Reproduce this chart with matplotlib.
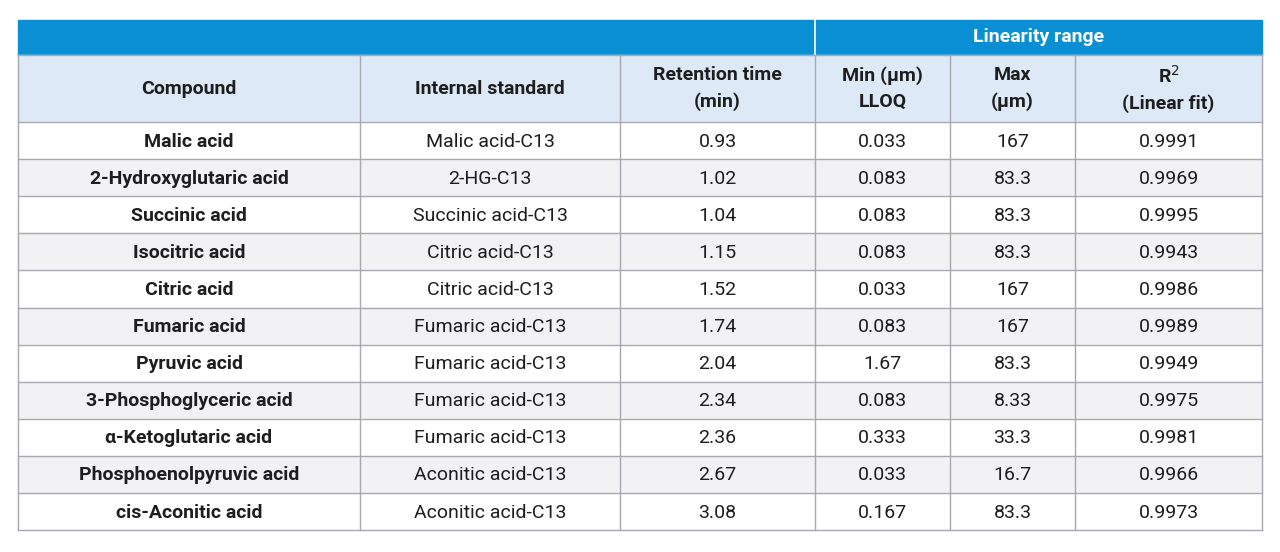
import matplotlib.pyplot as plt
from matplotlib.patches import Rectangle

plt.rcParams["font.family"] = "Roboto"

compounds = ["Malic acid", "2-Hydroxyglutaric acid", "Succinic acid", "Isocitric acid",
             "Citric acid", "Fumaric acid", "Pyruvic acid", "3-Phosphoglyceric acid",
             "\u03b1-Ketoglutaric acid", "Phosphoenolpyruvic acid", "cis-Aconitic acid"]
standards = ["Malic acid-C13", "2-HG-C13", "Succinic acid-C13", "Citric acid-C13",
             "Citric acid-C13", "Fumaric acid-C13", "Fumaric acid-C13", "Fumaric acid-C13",
             "Fumaric acid-C13", "Aconitic acid-C13", "Aconitic acid-C13"]
ret_time = ["0.93", "1.02", "1.04", "1.15", "1.52", "1.74", "2.04", "2.34", "2.36", "2.67", "3.08"]
lloq = ["0.033", "0.083", "0.083", "0.083", "0.033", "0.083", "1.67", "0.083", "0.333", "0.033", "0.167"]
max_um = ["167", "83.3", "83.3", "83.3", "167", "167", "83.3", "8.33", "33.3", "16.7", "83.3"]
r2 = ["0.9991", "0.9969", "0.9995", "0.9943", "0.9986", "0.9989", "0.9949", "0.9975",
      "0.9981", "0.9966", "0.9973"]
headers = ["Compound", "Internal standard", "Retention time\n(min)", "Min (\u00b5m)\nLLOQ",
           "Max\n(\u00b5m)", "R$^2$\n(Linear fit)"]

col_x = [18, 360, 620, 815, 950, 1075, 1262]
top, band_h, head_h, row_h = 20, 35, 67, 37.1
blue, head_bg, alt_bg, grid = "#0a8fd4", "#dde9f6", "#f2f2f4", "#a8a8b0"
txt = "#1e1e1e"

fig = plt.figure(figsize=(12.8, 5.52), dpi=100)
ax = fig.add_axes([0, 0, 1, 1])
ax.set_xlim(0, 1280)
ax.set_ylim(552, 0)
ax.axis("off")

# blue band
ax.add_patch(Rectangle((col_x[0], top), col_x[-1] - col_x[0], band_h, color=blue))
ax.plot([col_x[3], col_x[3]], [top, top + band_h], color="white", lw=1.2)
ax.text((col_x[3] + col_x[-1]) / 2, top + band_h / 2, "Linearity range", color="white",
        ha="center", va="center", fontsize=14, fontweight="bold")

# header
hy = top + band_h
ax.add_patch(Rectangle((col_x[0], hy), col_x[-1] - col_x[0], head_h, color=head_bg))
for i, h in enumerate(headers):
    ax.text((col_x[i] + col_x[i + 1]) / 2, hy + head_h / 2, h, ha="center", va="center",
            fontsize=14, fontweight="bold", color=txt, linespacing=1.5)

# rows
y0 = hy + head_h
columns = [compounds, standards, ret_time, lloq, max_um, r2]
for r in range(len(compounds)):
    y = y0 + r * row_h
    ax.add_patch(Rectangle((col_x[0], y), col_x[-1] - col_x[0], row_h,
                           color="white" if r % 2 == 0 else alt_bg))
    for c, col in enumerate(columns):
        ax.text((col_x[c] + col_x[c + 1]) / 2, y + row_h / 2 + 1, col[r], ha="center",
                va="center", fontsize=14, color=txt,
                fontweight="bold" if c == 0 else "normal")

bottom = y0 + len(compounds) * row_h
for r in range(len(compounds) + 1):
    ax.plot([col_x[0], col_x[-1]], [y0 + r * row_h] * 2, color=grid, lw=1)
ax.plot([col_x[0], col_x[-1]], [hy, hy], color=grid, lw=1)
for x in col_x:
    ax.plot([x, x], [hy, bottom], color=grid, lw=1)

fig.savefig("out.png", dpi=100)
